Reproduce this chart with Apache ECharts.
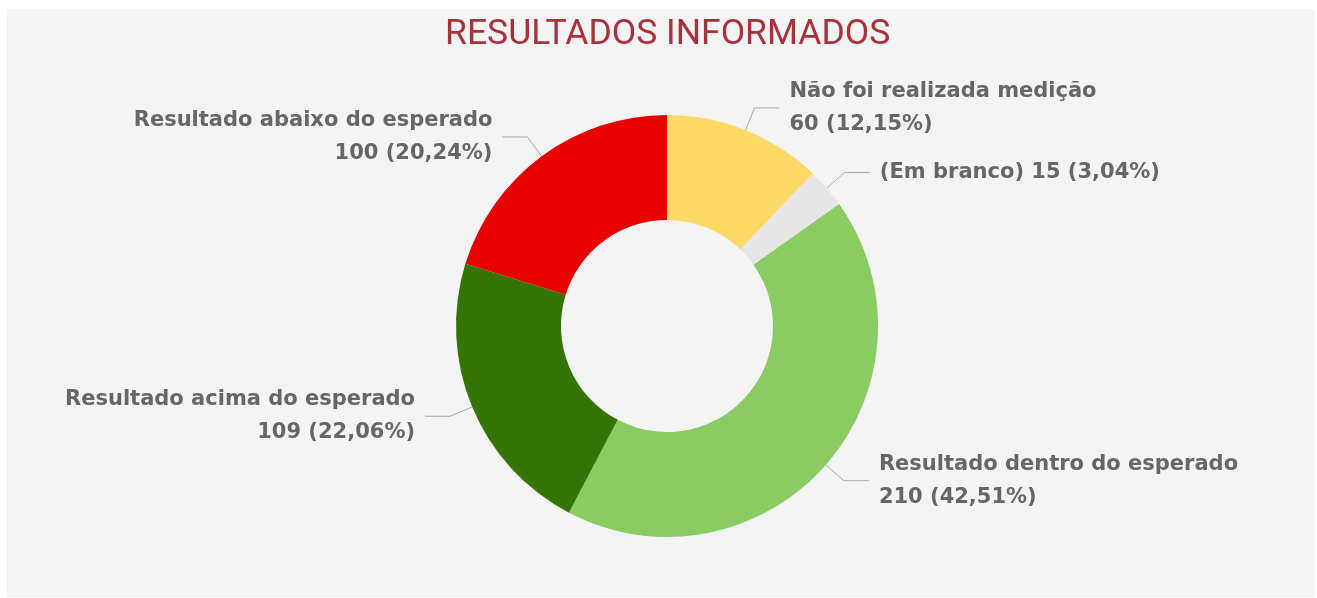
<!DOCTYPE html>
<html>
<head>
<meta charset="utf-8">
<script src="https://cdn.jsdelivr.net/npm/echarts@6/dist/echarts.min.js"></script>
<style>
  html, body { margin: 0; padding: 0; background: #ffffff; }
  #panel {
    position: absolute;
    left: 7px;
    top: 9px;
    width: 1308px;
    height: 588px;
    background: #f4f4f4;
  }
</style>
</head>
<body>
<div id="panel"></div>
<script>
// categorias e valores
const categorias = [
  'Não foi realizada medição',
  '(Em branco)',
  'Resultado dentro do esperado',
  'Resultado acima do esperado',
  'Resultado abaixo do esperado'
]
const valores = [60, 15, 210, 109, 100]
const cores = ['#FFD966', '#E6E6E6', '#8BCC62', '#357508', '#E60000']

const chart = echarts.init(document.getElementById('panel'))

// rótulo: nome, valor e percentual com vírgula decimal
const formatarRotulo = (p) => {
  const pct = p.percent.toFixed(2).replace('.', ',')
  const sep = p.name === '(Em branco)' ? ' ' : '\n'
  return p.name + sep + p.value + ' (' + pct + '%)'
}

const option = {
  animation: false,
  title: {
    text: 'RESULTADOS INFORMADOS',
    left: 438,
    top: 8,
    padding: 0,
    textStyle: {
      fontFamily: 'Roboto',
      fontWeight: 'normal',
      fontSize: 35.5,
      color: '#A8313A'
    }
  },
  series: [
    {
      type: 'pie',
      center: [660, 317],
      radius: [106, 211],
      startAngle: 90,
      clockwise: true,
      avoidLabelOverlap: false,
      data: categorias.map((nome, i) => ({
        name: nome,
        value: valores[i],
        itemStyle: { color: cores[i] }
      })),
      label: {
        formatter: formatarRotulo,
        fontFamily: '"DejaVu Sans", sans-serif',
        fontWeight: 'bold',
        fontSize: 21,
        lineHeight: 33,
        color: '#666666',
        distanceToLabelLine: 10
      },
      labelLine: {
        length: 24,
        length2: 25,
        lineStyle: { color: '#AAAAAA', width: 1 }
      },
      emphasis: { disabled: true }
    }
  ]
}

chart.setOption(option)
</script>
</body>
</html>
